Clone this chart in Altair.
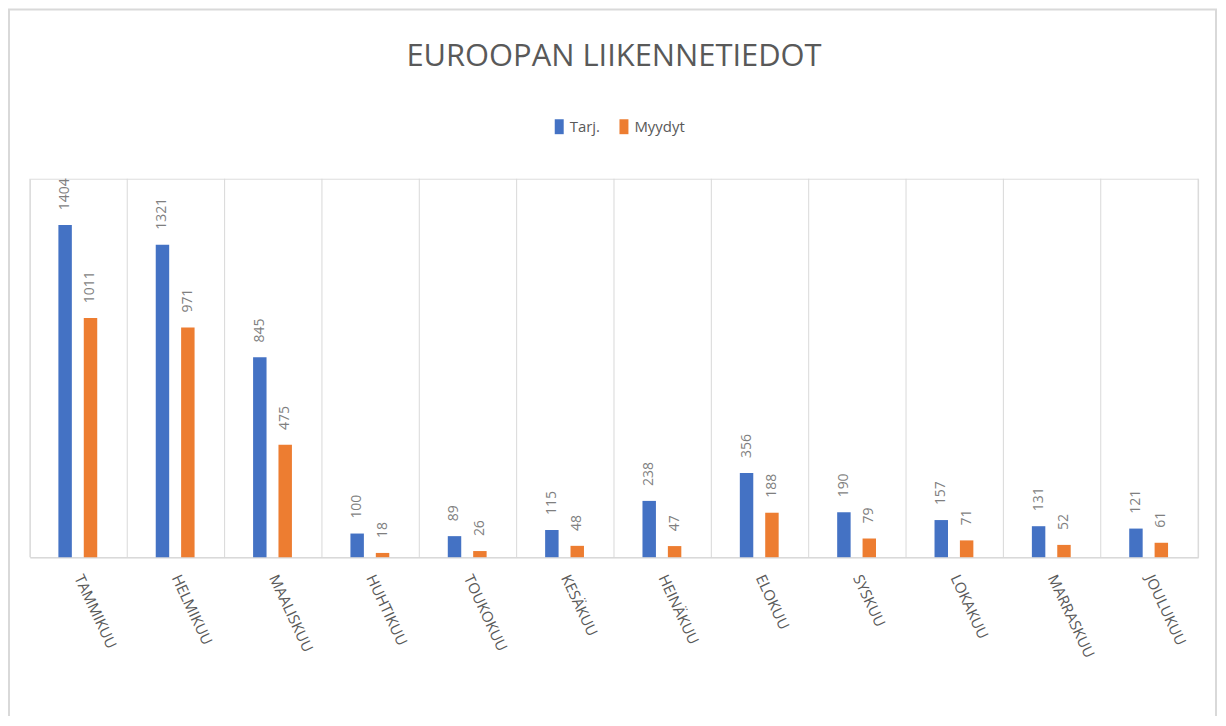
import altair as alt
import pandas as pd

months = ["TAMMIKUU", "HELMIKUU", "MAALISKUU", "HUHTIKUU", "TOUKOKUU", "KESÄKUU",
          "HEINÄKUU", "ELOKUU", "SYSKUU", "LOKAKUU", "MARRASKUU", "JOULUKUU"]
series = ["Tarj.", "Myydyt"]
tarj = [1404, 1321, 845, 100, 89, 115, 238, 356, 190, 157, 131, 121]
myydyt = [1011, 971, 475, 18, 26, 48, 47, 188, 79, 71, 52, 61]
colors = ["#4472C4", "#ED7D31"]

rows = []
for m, a, b in zip(months, tarj, myydyt):
    rows.append({"kk": m, "sarja": series[0], "arvo": a})
    rows.append({"kk": m, "sarja": series[1], "arvo": b})
df = pd.DataFrame(rows)
mdf = pd.DataFrame({"kk": months})

W, H = 1173, 380
FONT = "Open Sans"

xscale = alt.Scale(domain=months, paddingInner=0, paddingOuter=0)
xoff = alt.Scale(domain=series, range=[28.6, 67.6], paddingInner=0.47, paddingOuter=0)
yscale = alt.Scale(domain=[0, 1600], nice=False, zero=True)

base = alt.Chart(df)

bars = base.mark_bar().encode(
    x=alt.X("kk:N", scale=xscale, sort=months,
            axis=alt.Axis(title=None, labelAngle=65, labelAlign="left", labelBaseline="middle",
                          labelFontSize=15, labelFont=FONT,
                          labelColor="#595959", ticks=False, grid=False,
                          domainColor="#d9d9d9", domainWidth=1.5, labelPadding=18)),
    xOffset=alt.XOffset("sarja:N", scale=xoff, sort=series),
    y=alt.Y("arvo:Q", scale=yscale, axis=None),
    color=alt.Color("sarja:N", sort=series,
                    scale=alt.Scale(domain=series, range=colors),
                    legend=alt.Legend(title=None, orient="none", direction="horizontal",
                                      legendX=524, legendY=-60,
                                      labelFont=FONT, labelFontSize=15, labelColor="#595959",
                                      symbolType="M-0.6,-1H0.6V1H-0.6Z", symbolSize=225,
                                      symbolStrokeWidth=0, labelOffset=3, columnPadding=16)),
)

labels = base.mark_text(angle=270, align="left", baseline="middle", dx=15,
                        font=FONT, fontSize=14, color="#7f7f7f").encode(
    x=alt.X("kk:N", scale=xscale, sort=months),
    xOffset=alt.XOffset("sarja:N", scale=xoff, sort=series),
    y=alt.Y("arvo:Q", scale=yscale),
    text=alt.Text("arvo:Q"),
)

grid_left = alt.Chart(mdf).mark_rule(color="#d9d9d9", strokeWidth=1).encode(
    x=alt.X("kk:N", scale=xscale, sort=months, bandPosition=0),
    y=alt.value(0), y2=alt.value(H),
)
grid_right = alt.Chart(mdf).transform_filter(
    alt.datum.kk == months[-1]
).mark_rule(color="#d9d9d9", strokeWidth=1).encode(
    x=alt.X("kk:N", scale=xscale, sort=months, bandPosition=1),
    y=alt.value(0), y2=alt.value(H),
)

frame = alt.Chart(mdf).transform_filter(
    alt.datum.kk == months[0]
).mark_rect(fill="transparent", stroke="#d9d9d9", strokeWidth=2).encode(
    x=alt.value(-21), x2=alt.value(1191), y=alt.value(-170), y2=alt.value(600),
)

chart = alt.layer(frame, grid_left, grid_right, bars, labels).properties(
    width=W, height=H,
    title=alt.TitleParams("EUROOPAN LIIKENNETIEDOT", font=FONT, fontSize=31,
                          fontWeight="normal", color="#595959", anchor="middle",
                          offset=0, baseline="alphabetic", dy=89),
    autosize=alt.AutoSizeParams(type="none"),
    padding={"left": 22, "top": 170, "right": 20, "bottom": 158},
).configure_view(stroke=None).configure(background="white")

chart.save("out.html", embed_options={"renderer": "svg", "actions": False})
